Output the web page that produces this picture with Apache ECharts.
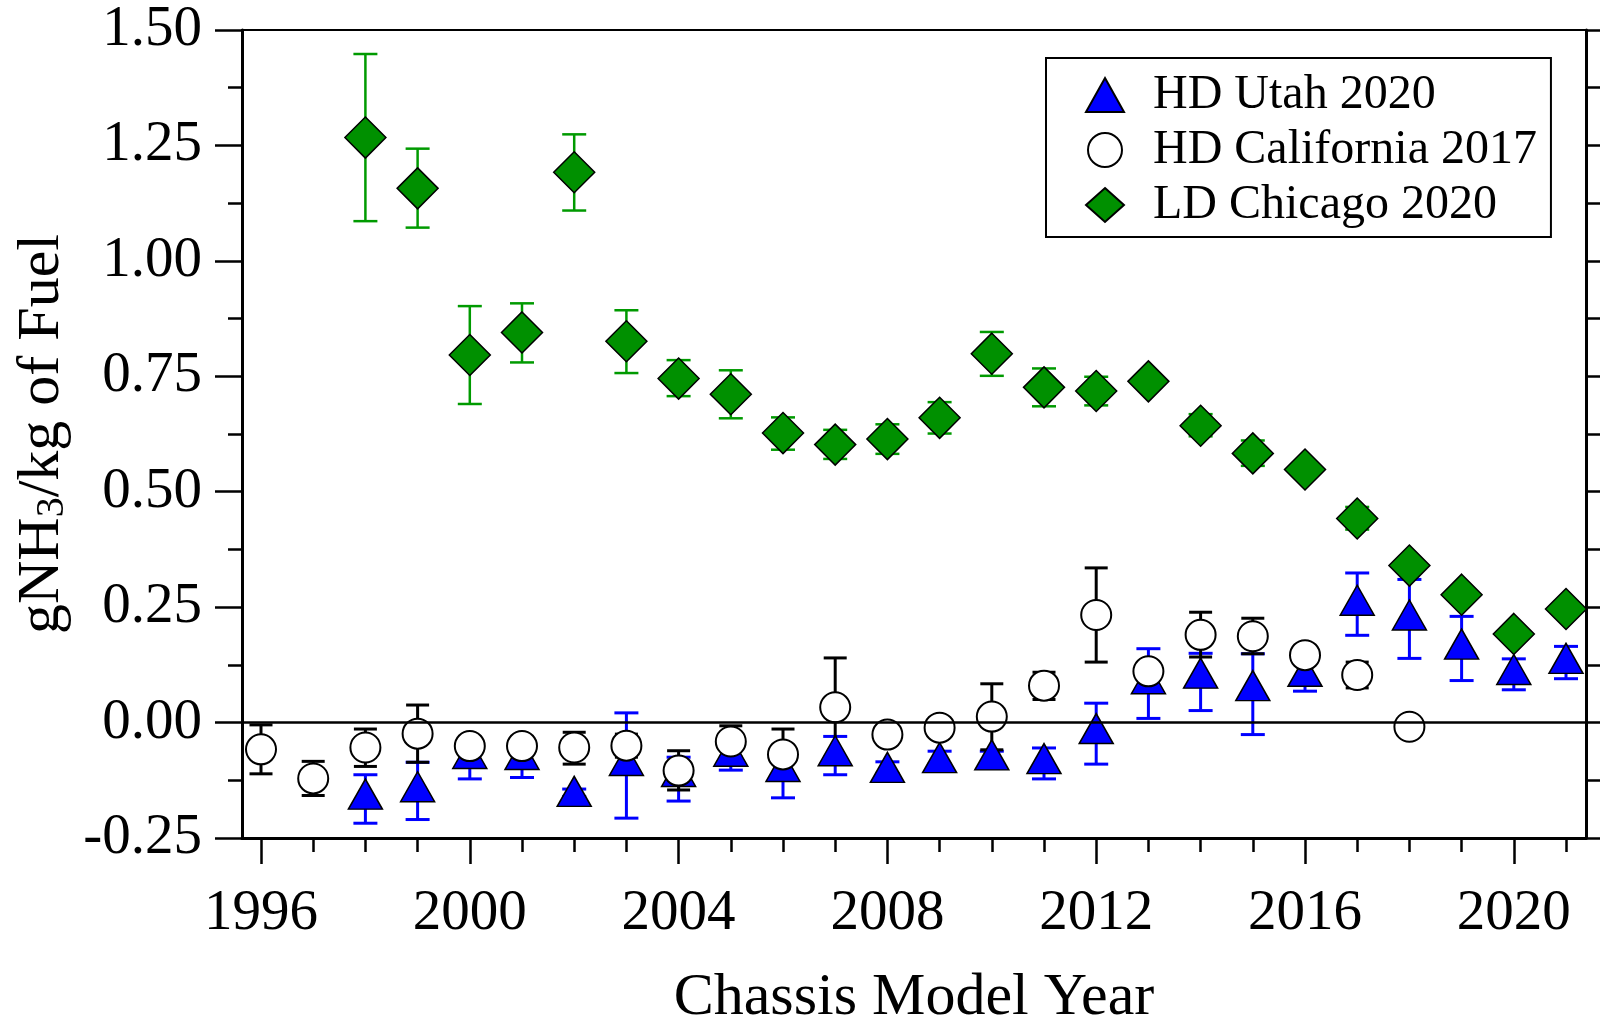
<!DOCTYPE html>
<html>
<head>
<meta charset="utf-8">
<script src="https://cdn.jsdelivr.net/npm/echarts@6/dist/echarts.min.js"></script>
<style>
html,body{margin:0;padding:0;background:#fff;}
#chart{width:1600px;height:1024px;}
</style>
</head>
<body>
<div id="chart"></div>
<script>
// ---- Data ----
const utahYears = [1998,1999,2000,2001,2002,2003,2004,2005,2006,2007,2008,2009,2010,2011,2012,2013,2014,2015,2016,2017,2018,2019,2020,2021];
const utahVal = [-0.155,-0.139,-0.067,-0.069,-0.149,-0.082,-0.106,-0.062,-0.095,-0.061,-0.097,-0.076,-0.070,-0.078,-0.013,0.095,0.107,0.080,0.111,0.265,0.233,0.170,0.115,0.139];
const utahLo = [-0.218,-0.210,-0.122,-0.119,-0.160,-0.207,-0.170,-0.103,-0.163,-0.113,-0.110,-0.090,-0.090,-0.122,-0.090,0.009,0.026,-0.026,0.068,0.189,0.139,0.091,0.071,0.095];
const utahHi = [-0.113,-0.086,-0.045,-0.045,-0.144,0.021,-0.075,-0.030,-0.060,-0.030,-0.085,-0.062,-0.062,-0.055,0.042,0.160,0.150,0.149,0.140,0.324,0.310,0.230,0.138,0.165];

const caYears = [1996,1997,1998,1999,2000,2001,2002,2003,2004,2005,2006,2007,2008,2009,2010,2011,2012,2013,2014,2015,2016,2017,2018];
const caVal = [-0.058,-0.121,-0.054,-0.024,-0.051,-0.051,-0.054,-0.050,-0.104,-0.041,-0.069,0.033,-0.026,-0.011,0.013,0.080,0.233,0.111,0.190,0.187,0.146,0.103,-0.009];
const caLo = [-0.111,-0.158,-0.095,-0.086,-0.070,-0.070,-0.090,-0.075,-0.146,-0.074,-0.124,-0.075,-0.040,-0.025,-0.059,0.050,0.131,0.095,0.142,0.149,0.130,0.075,-0.020];
const caHi = [-0.005,-0.084,-0.014,0.038,-0.030,-0.030,-0.021,-0.025,-0.061,-0.007,-0.014,0.140,-0.012,0.003,0.084,0.109,0.335,0.127,0.239,0.226,0.160,0.131,0.002];

const chiYears = [1998,1999,2000,2001,2002,2003,2004,2005,2006,2007,2008,2009,2010,2011,2012,2013,2014,2015,2016,2017,2018,2019,2020,2021];
const chiVal = [1.267,1.157,0.796,0.845,1.192,0.826,0.745,0.711,0.627,0.602,0.614,0.660,0.799,0.726,0.718,0.739,0.643,0.583,0.548,0.442,0.340,0.277,0.192,0.246];
const chiLo = [1.086,1.072,0.690,0.780,1.109,0.757,0.707,0.659,0.591,0.571,0.582,0.626,0.751,0.685,0.687,0.725,0.620,0.556,0.535,0.418,0.325,0.262,0.180,0.235];
const chiHi = [1.448,1.243,0.902,0.908,1.274,0.893,0.785,0.763,0.661,0.634,0.646,0.694,0.846,0.767,0.749,0.753,0.668,0.611,0.561,0.467,0.355,0.292,0.205,0.258];

const seriesNames = ['HD Utah 2020', 'HD California 2017', 'LD Chicago 2020'];
const yearTicks = [1996,1997,1998,1999,2000,2001,2002,2003,2004,2005,2006,2007,2008,2009,2010,2011,2012,2013,2014,2015,2016,2017,2018,2019,2020,2021];
const yearLabels = [1996,2000,2004,2008,2012,2016,2020];
const xMin = 1995.636, xMax = 2021.383;
const yMin = -0.25, yMax = 1.5, yStep = 0.25, yRightStep = 0.125;
const zeroLine = 0;

const FONT = 'Liberation Serif';

function pts(xs, vs) { return xs.map((x, i) => [x, vs[i]]); }
function errs(xs, lo, hi) { return xs.map((x, i) => [x, lo[i], hi[i]]); }

function errRender(color, width, capW) {
  return function (params, api) {
    const x = api.value(0);
    const pLo = api.coord([x, api.value(1)]);
    const pHi = api.coord([x, api.value(2)]);
    const h = capW / 2;
    const st = { stroke: color, lineWidth: width };
    return {
      type: 'group',
      children: [
        { type: 'line', shape: { x1: pLo[0], y1: pLo[1], x2: pHi[0], y2: pHi[1] }, style: st },
        { type: 'line', shape: { x1: pLo[0] - h, y1: pLo[1], x2: pLo[0] + h, y2: pLo[1] }, style: st },
        { type: 'line', shape: { x1: pHi[0] - h, y1: pHi[1], x2: pHi[0] + h, y2: pHi[1] }, style: st }
      ]
    };
  };
}

const chart = echarts.init(document.getElementById('chart'), null, { renderer: 'canvas' });

const axisLineStyle = { color: '#000', width: 3 };

const option = {
  animation: false,
  backgroundColor: '#fff',
  grid: { left: 242, right: 14, top: 30, bottom: 186, containLabel: false, outerBoundsMode: 'none' },
  legend: {
    data: seriesNames,
    orient: 'vertical',
    left: 1046,
    top: 58,
    backgroundColor: '#fff',
    borderColor: '#000',
    borderWidth: 2,
    borderRadius: 0,
    padding: [13, 14, 8, 39],
    itemGap: 7,
    itemWidth: 38,
    itemHeight: 34,
    selectedMode: false,
    textStyle: { fontFamily: FONT, fontSize: 48, color: '#000', lineHeight: 48, padding: [0, 0, 0, 24] }
  },
  xAxis: [
    {
      type: 'value', min: xMin, max: xMax, position: 'bottom',
      axisLine: { show: true, onZero: false, lineStyle: axisLineStyle },
      axisTick: { show: true, customValues: yearTicks, length: 14, lineStyle: { color: '#000', width: 2.5 } },
      axisLabel: { show: false },
      splitLine: { show: false },
      name: 'Chassis Model Year',
      nameLocation: 'middle',
      nameGap: 130,
      nameTextStyle: { fontFamily: FONT, fontSize: 60, color: '#000' }
    },
    {
      type: 'value', min: xMin, max: xMax, position: 'bottom',
      axisLine: { show: false, onZero: false },
      axisTick: { show: true, customValues: yearLabels, length: 26, lineStyle: { color: '#000', width: 2.5 } },
      axisLabel: { show: true, customValues: yearLabels, margin: 48, fontFamily: FONT, fontSize: 57, color: '#000', formatter: v => String(v) },
      splitLine: { show: false }
    },
    {
      type: 'value', min: xMin, max: xMax, position: 'top',
      axisLine: { show: true, onZero: false, lineStyle: { color: '#000', width: 2 } },
      axisTick: { show: false }, axisLabel: { show: false }, splitLine: { show: false }
    }
  ],
  yAxis: [
    {
      type: 'value', min: yMin, max: yMax, interval: yStep, position: 'left',
      axisLine: { show: true, onZero: false, lineStyle: axisLineStyle },
      axisTick: { show: true, length: 27, lineStyle: { color: '#000', width: 2.5 } },
      minorTick: { show: true, splitNumber: 2, length: 14, lineStyle: { color: '#000', width: 2.5 } },
      axisLabel: { margin: 40, fontFamily: FONT, fontSize: 57, color: '#000', formatter: v => v.toFixed(2) },
      splitLine: { show: false },
      name: '{a|gNH}{b|3}{a|/kg of Fuel}',
      nameLocation: 'middle',
      nameGap: 170,
      nameTextStyle: {
        fontFamily: FONT, fontSize: 60, color: '#000',
        rich: {
          a: { fontFamily: FONT, fontSize: 60, color: '#000', lineHeight: 60 },
          b: { fontFamily: FONT, fontSize: 40, color: '#000', lineHeight: 26, verticalAlign: 'bottom' }
        }
      }
    },
    {
      type: 'value', min: yMin, max: yMax, interval: yRightStep, position: 'right',
      axisLine: { show: true, onZero: false, lineStyle: axisLineStyle },
      axisTick: { show: true, length: 14, lineStyle: { color: '#000', width: 2.5 } },
      axisLabel: { show: false },
      splitLine: { show: false }
    }
  ],
  series: [
    {
      name: 'utahErr', type: 'custom', xAxisIndex: 0, yAxisIndex: 0,
      renderItem: errRender('#0000ff', 3, 24),
      data: errs(utahYears, utahLo, utahHi),
      encode: { x: 0, y: [1, 2] },
      silent: true,
      markLine: {
        silent: true, symbol: ['none', 'none'], animation: false,
        label: { show: false },
        lineStyle: { color: '#000', width: 2.5, type: 'solid' },
        emphasis: { disabled: true },
        data: [{ yAxis: zeroLine }]
      }
    },
    {
      name: seriesNames[0], type: 'scatter', xAxisIndex: 0, yAxisIndex: 0,
      symbol: 'triangle', symbolSize: [34, 30],
      itemStyle: { color: '#0000ff', borderColor: '#000', borderWidth: 1.5, opacity: 1 },
      data: pts(utahYears, utahVal)
    },
    {
      name: 'caErr', type: 'custom', xAxisIndex: 0, yAxisIndex: 0,
      renderItem: errRender('#000000', 3, 23),
      data: errs(caYears, caLo, caHi),
      encode: { x: 0, y: [1, 2] },
      silent: true
    },
    {
      name: seriesNames[1], type: 'scatter', xAxisIndex: 0, yAxisIndex: 0,
      symbol: 'circle', symbolSize: 30,
      itemStyle: { color: '#ffffff', borderColor: '#000', borderWidth: 2, opacity: 1 },
      data: pts(caYears, caVal)
    },
    {
      name: 'chiErr', type: 'custom', xAxisIndex: 0, yAxisIndex: 0,
      renderItem: errRender('#009a00', 2.5, 24),
      data: errs(chiYears, chiLo, chiHi),
      encode: { x: 0, y: [1, 2] },
      silent: true
    },
    {
      name: seriesNames[2], type: 'scatter', xAxisIndex: 0, yAxisIndex: 0,
      symbol: 'diamond', symbolSize: [41, 41],
      itemStyle: { color: '#009000', borderColor: '#000', borderWidth: 1.5, opacity: 1 },
      data: pts(chiYears, chiVal)
    }
  ]
};

chart.setOption(option);
</script>
</body>
</html>
